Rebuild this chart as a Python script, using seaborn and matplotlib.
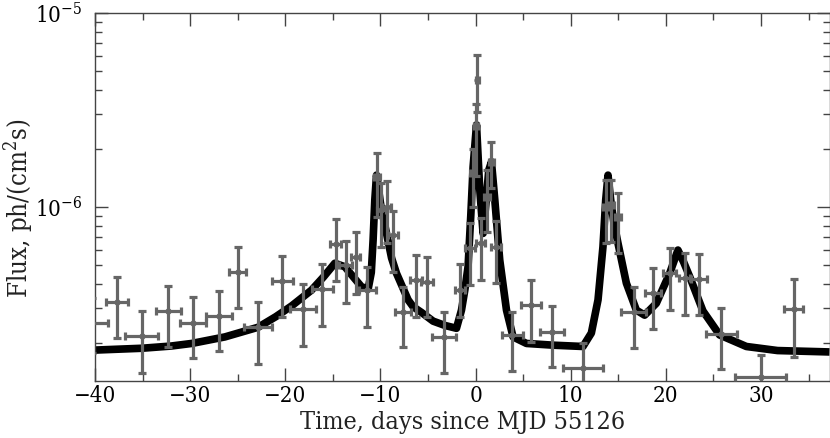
import numpy as np
import pandas as pd
import matplotlib
matplotlib.use("Agg")
import matplotlib.pyplot as plt
import seaborn as sns
from matplotlib.ticker import MultipleLocator, LogLocator, NullFormatter

# ---- model light curve ----
model_t = [-40.0, -35.09, -32.0, -29.84, -26.34, -22.85, -21.0, -19.34, -17.24, -16.0,
           -14.79, -13.74, -11.99, -11.29, -10.96, -10.77, -10.59, -10.41, -9.96, -9.36,
           -8.83, -8.31, -7.09, -6.56, -5.68, -4.46, -3.2, -2.01, -1.48, -1.13,
           -0.79, -0.50, -0.26, 0.10, 0.44, 0.79, 1.07, 1.39, 1.67, 2.02,
           2.54, 3.25, 3.94, 5.35, 8.14, 11.29, 12.17, 12.87, 13.39, 13.68,
           13.92, 14.20, 14.52, 14.97, 15.85, 16.90, 17.77, 19.0, 20.4, 21.27,
           21.87, 22.5, 23.9, 25.65, 28.46, 31.74, 37.2]
model_flux = [1.83e-7, 1.87e-7, 1.92e-7, 1.98e-7, 2.14e-7, 2.40e-7, 2.72e-7, 3.09e-7, 3.73e-7, 4.35e-7,
              5.13e-7, 4.92e-7, 3.88e-7, 3.78e-7, 4.6e-7, 6.76e-7, 1.09e-6, 1.46e-6, 1.02e-6, 7.31e-7,
              5.46e-7, 4.55e-7, 3.32e-7, 3.06e-7, 2.86e-7, 2.58e-7, 2.45e-7, 2.37e-7, 2.94e-7, 3.73e-7,
              4.92e-7, 9.1e-7, 1.61e-6, 2.65e-6, 1.23e-6, 7.31e-7, 1.02e-6, 1.55e-6, 1.71e-6, 1.09e-6,
              5.33e-7, 2.94e-7, 2.14e-7, 1.98e-7, 1.94e-7, 1.91e-7, 2.24e-7, 3.32e-7, 6.24e-7, 1.09e-6,
              1.46e-6, 1.09e-6, 8.4e-7, 6.5e-7, 4.05e-7, 2.94e-7, 2.77e-7, 3.19e-7, 4.55e-7, 6.0e-7,
              5.2e-7, 4.38e-7, 2.91e-7, 2.19e-7, 1.91e-7, 1.82e-7, 1.79e-7]

# ---- measured fluxes ----
obs_t = [-40.3, -37.7, -35.1, -32.3, -29.7, -27.0, -25.0, -22.85, -20.3, -18.15,
         -16.1, -14.7, -13.67, -12.6, -11.36, -10.35, -9.89, -9.36, -8.66, -7.62,
         -6.28, -5.09, -3.3, -1.66, -0.61, -0.30, 0.05, 0.20, 0.55, 1.2,
         1.67, 2.19, 3.84, 5.87, 8.03, 11.3, 13.73, 14.26, 14.97, 16.6,
         18.64, 20.4, 21.97, 23.48, 25.83, 29.96, 33.43]
obs_t_err = [1.7, 1.13, 1.71, 1.3, 1.4, 1.37, 0.87, 1.49, 1.13, 1.33,
             1.08, 0.6, 0.7, 0.5, 0.87, 0.35, 0.45, 0.45, 0.5, 0.84,
             0.6, 0.66, 1.26, 0.5, 0.5, 0.25, 0.2, 0.2, 0.47, 0.3,
             0.3, 0.52, 1.1, 1.05, 1.28, 2.14, 0.3, 0.3, 0.35, 1.31,
             0.87, 0.7, 0.6, 0.82, 1.61, 2.71, 0.96]
obs_flux = [2.52e-7, 3.23e-7, 2.16e-7, 2.91e-7, 2.52e-7, 2.74e-7, 4.65e-7, 2.40e-7, 4.16e-7, 2.97e-7,
            3.77e-7, 6.43e-7, 5.02e-7, 5.54e-7, 3.73e-7, 1.43e-6, 9.6e-7, 1.0e-6, 7.18e-7, 2.88e-7,
            4.21e-7, 4.12e-7, 2.15e-7, 3.73e-7, 6.12e-7, 1.5e-6, 2.6e-6, 4.5e-6, 6.5e-7, 1.13e-6,
            1.71e-6, 6.25e-7, 2.19e-7, 3.13e-7, 2.28e-7, 1.48e-7, 1.0e-6, 1.02e-6, 8.9e-7, 2.86e-7,
            3.59e-7, 4.55e-7, 4.29e-7, 4.24e-7, 2.21e-7, 1.33e-7, 2.97e-7]
obs_flux_lo = [1.77e-7, 2.11e-7, 1.40e-7, 1.89e-7, 1.66e-7, 1.82e-7, 3.01e-7, 1.55e-7, 2.70e-7, 1.93e-7,
               2.44e-7, 4.16e-7, 3.21e-7, 3.55e-7, 2.40e-7, 8.9e-7, 6.24e-7, 6.5e-7, 4.65e-7, 1.89e-7,
               2.72e-7, 2.72e-7, 1.40e-7, 2.72e-7, 3.96e-7, 1.0e-6, 1.45e-6, 3.1e-6, 4.21e-7, 7.46e-7,
               1.25e-6, 4.05e-7, 1.42e-7, 2.02e-7, 1.50e-7, 0.96e-7, 6.52e-7, 6.6e-7, 5.77e-7, 1.87e-7,
               2.34e-7, 2.94e-7, 2.77e-7, 2.77e-7, 1.46e-7, 0.9e-7, 1.69e-7]
obs_flux_hi = [3.40e-7, 4.37e-7, 2.91e-7, 3.92e-7, 3.42e-7, 3.71e-7, 6.24e-7, 3.25e-7, 5.58e-7, 4.0e-7,
               5.08e-7, 8.67e-7, 6.70e-7, 7.41e-7, 4.92e-7, 1.89e-6, 1.33e-6, 1.36e-6, 9.57e-7, 3.88e-7,
               5.66e-7, 5.51e-7, 2.88e-7, 5.08e-7, 8.3e-7, 2.0e-6, 3.4e-6, 6.1e-6, 8.77e-7, 1.55e-6,
               2.17e-6, 8.5e-7, 2.88e-7, 4.21e-7, 3.09e-7, 2.0e-7, 1.38e-6, 1.38e-6, 1.18e-6, 3.88e-7,
               4.83e-7, 6.12e-7, 5.81e-7, 5.73e-7, 3.0e-7, 1.73e-7, 4.25e-7]

x_ticks = [-40, -30, -20, -10, 0, 10, 20, 30]

sns.set_theme(style="ticks")
plt.rcParams['font.family'] = ['DejaVu Serif']
plt.rcParams['font.stretch'] = 'condensed'
plt.rcParams['mathtext.fontset'] = 'dejavuserif'

W, H = 830, 438
fig = plt.figure(figsize=(W / 100, H / 100), dpi=100)
ax = fig.add_axes([95 / W, 1 - 381 / H, (829.5 - 95) / W, (381 - 13) / H])

model = pd.DataFrame({"t": model_t, "flux": model_flux})
sns.lineplot(data=model, x="t", y="flux", color="black", linewidth=5.5,
             sort=False, ax=ax, zorder=2)
for ln in ax.get_lines():
    ln.set_solid_joinstyle("round")
    ln.set_solid_capstyle("butt")

f = np.array(obs_flux)
yerr = [f - np.array(obs_flux_lo), np.array(obs_flux_hi) - f]
ax.errorbar(obs_t, obs_flux, xerr=obs_t_err, yerr=yerr, fmt='o', ms=3.5,
            color='#666666', ecolor='#666666', elinewidth=2.3, capsize=3,
            capthick=2.3, zorder=3)

ax.set_yscale('log')
ax.set_xlim(-40, 37.2)
ax.set_ylim(1.268e-7, 1e-5)
ax.set_xticks(x_ticks)
ax.xaxis.set_minor_locator(MultipleLocator(5))
ax.yaxis.set_major_locator(LogLocator(base=10, numticks=10))
ax.yaxis.set_minor_locator(LogLocator(base=10, subs=np.arange(2, 10), numticks=20))
ax.yaxis.set_minor_formatter(NullFormatter())

spine_c = '#444444'
for s in ax.spines.values():
    s.set_color(spine_c)
    s.set_linewidth(1.0)
ax.tick_params(which='both', direction='in', top=True, right=True,
               color=spine_c, width=1.0, labelsize=16, labelcolor='black')
ax.tick_params(which='major', length=9.4)
ax.tick_params(which='minor', length=5)
ax.tick_params(axis='x', pad=3)
ax.tick_params(axis='y', pad=9)

ax.set_xlabel("Time, days since MJD 55126", fontsize=18, color='#222222', labelpad=3)
ax.set_ylabel("Flux, ph/(cm$^2$s)", fontsize=18.5, color='#222222')
ax.yaxis.set_label_coords(-0.081, 0.47)

fig.savefig("out.png", dpi=100)
